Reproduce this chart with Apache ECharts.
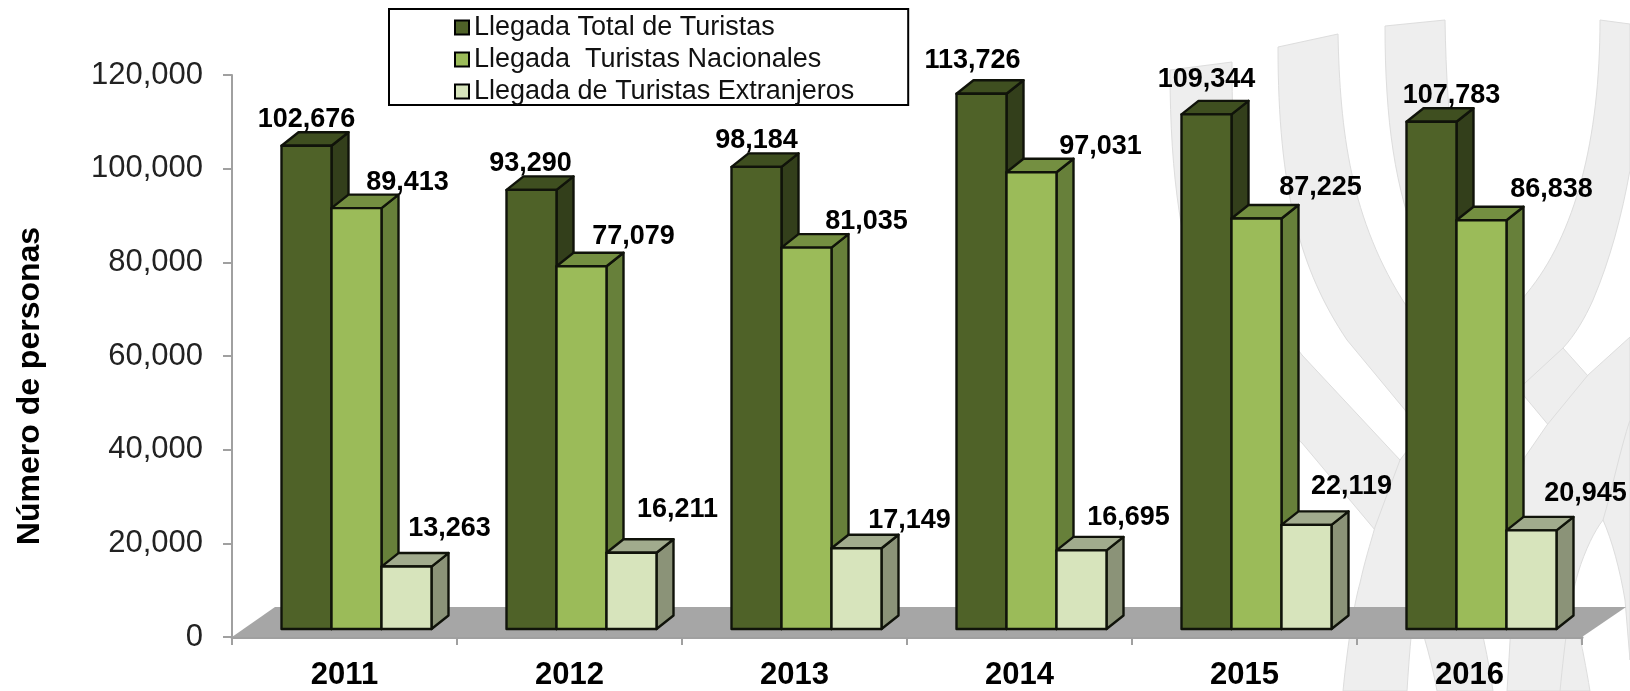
<!DOCTYPE html>
<html>
<head>
<meta charset="utf-8">
<style>html,body{margin:0;padding:0;background:#fff}#c{width:1630px;height:691px}</style>
<script src="https://cdn.jsdelivr.net/npm/echarts@6/dist/echarts.min.js"></script>
</head>
<body>
<div id="c"></div>
<script>
const categories = ['2011', '2012', '2013', '2014', '2015', '2016'];
const totalName = 'Llegada Total de Turistas';
const nationalName = 'Llegada  Turistas Nacionales';
const foreignName = 'Llegada de Turistas Extranjeros';
const totalValues = [102676, 93290, 98184, 113726, 109344, 107783];
const nationalValues = [89413, 77079, 81035, 97031, 87225, 86838];
const foreignValues = [13263, 16211, 17149, 16695, 22119, 20945];

// label nudges relative to the bar front face (layout only)
const totalLabelNudge = [[0,-26],[-1,-26],[0,-26],[-9,-33],[0,-35],[20,-26]];
const nationalLabelNudge = [[51,-26],[52,-30],[60,-26],[69,-26],[64,-31],[70,-31]];
const foreignLabelNudge = [[43,-38],[46,-43],[53,-28],[47,-33],[45,-38],[54,-37]];

const FONT = '"Liberation Sans", Arial, sans-serif';
const BAR_W = 50, DEPTH_X = 17, DEPTH_Y = 13.5, BASE_LIFT = 8, GROUP_SHIFT = 12, PERSPECTIVE = 1.005;
const EDGE = '#10130a';

// faint watermark ribbons behind the chart
const ribbons = [
  'M1170,70 L1232,62 C1232,170 1240,240 1262,290 C1275,310 1290,340 1302,355 L1400,460 C1450,515 1478,590 1493,691 L1437,691 C1428,640 1405,570 1375,530 L1302,443 C1220,370 1170,290 1170,70 Z',
  'M1278,47 L1338,34 C1340,130 1350,220 1407,307 L1525,470 C1550,510 1575,600 1590,691 L1542,691 C1535,640 1510,570 1500,550 L1405,410 L1347,340 C1300,270 1278,190 1278,47 Z',
  'M1385,26 L1445,20 C1447,130 1455,200 1490,260 C1510,295 1540,325 1563,348 L1630,423 L1630,660 L1625,600 C1620,570 1612,540 1603,520 C1590,490 1570,450 1550,427 L1525,397 L1420,250 C1395,190 1385,120 1385,26 Z',
  'M1600,20 L1630,24 L1630,170 C1622,215 1610,260 1593,300 C1585,318 1575,335 1563,348 L1525,383 C1490,420 1465,450 1440,490 C1420,540 1412,610 1407,691 L1343,691 C1348,640 1355,600 1360,583 C1365,560 1370,545 1375,527 L1400,460 L1527,293 C1575,235 1600,140 1600,20 Z',
  'M1630,337 L1588,375 L1547,425 L1525,457 C1515,520 1513,600 1507,691 L1560,691 C1565,640 1570,600 1578,573 C1585,550 1595,530 1603,520 C1612,490 1620,450 1630,420 Z'
];

function bar3d(values, nudges, slot, front, top, side) {
  return function (params, api) {
    const i = api.value(0);
    const v = api.value(1);
    const zero = api.coord([i, 0]);
    const head = api.coord([i, v]);
    const x0 = zero[0] - BAR_W * 1.5 + GROUP_SHIFT + slot * BAR_W;
    const x1 = x0 + BAR_W;
    const yb = zero[1] - BASE_LIFT;
    const yt = yb - (zero[1] - head[1]) * PERSPECTIVE;
    const line = { stroke: EDGE, lineWidth: 2.4, lineJoin: 'round' };
    const n = nudges[i];
    return {
      type: 'group',
      children: [
        { type: 'polygon', shape: { points: [[x1, yt], [x1 + DEPTH_X, yt - DEPTH_Y], [x1 + DEPTH_X, yb - DEPTH_Y], [x1, yb]] },
          style: Object.assign({ fill: side }, line) },
        { type: 'polygon', shape: { points: [[x0, yt], [x0 + DEPTH_X, yt - DEPTH_Y], [x1 + DEPTH_X, yt - DEPTH_Y], [x1, yt]] },
          style: Object.assign({ fill: top }, line) },
        { type: 'rect', shape: { x: x0, y: yt, width: BAR_W, height: yb - yt },
          style: Object.assign({ fill: front }, line) },
        { type: 'text', z2: 50, x: x0 + BAR_W / 2 + n[0], y: yt + n[1],
          style: { text: v.toLocaleString('en-US'), fill: '#000', font: 'bold 27px ' + FONT, align: 'center', verticalAlign: 'middle' } }
      ]
    };
  };
}

function barSeries(name, values, nudges, slot, front, top, side) {
  return {
    name, type: 'custom', coordinateSystem: 'cartesian2d', z: 5, clip: false,
    itemStyle: { color: front },
    encode: { x: 0, y: 1 },
    data: values.map((v, i) => [i, v]),
    renderItem: bar3d(values, nudges, slot, front, top, side)
  };
}

const chart = echarts.init(document.getElementById('c'), null, { renderer: 'canvas' });
chart.setOption({
  animation: false,
  backgroundColor: '#fff',
  textStyle: { fontFamily: FONT },
  grid: { left: 232, right: 48, top: 75, bottom: 52, containLabel: false },
  legend: {
    data: [totalName, nationalName, foreignName],
    orient: 'vertical', left: 389, top: 9,
    padding: [5, 54, 0, 65],
    itemWidth: 14, itemHeight: 14, itemGap: 5,
    backgroundColor: '#fff', borderColor: '#000', borderWidth: 2, borderRadius: 0,
    icon: 'rect',
    itemStyle: { borderColor: '#000', borderWidth: 2 },
    textStyle: { fontFamily: FONT, fontSize: 27, color: '#111' }
  },
  xAxis: {
    type: 'category', data: categories, boundaryGap: true,
    axisLine: { lineStyle: { color: '#a0a0a0', width: 3 } },
    axisTick: { show: true, alignWithLabel: false, length: 8, lineStyle: { color: '#a0a0a0', width: 2 } },
    axisLabel: { fontFamily: FONT, fontSize: 31, fontWeight: 'bold', color: '#000', margin: 23 }
  },
  yAxis: {
    type: 'value', min: 0, max: 120000, interval: 20000,
    name: 'Número de personas', nameLocation: 'middle', nameGap: 186,
    nameTextStyle: { fontFamily: FONT, fontSize: 32, fontWeight: 'bold', color: '#000', padding: [0, 60, 0, 0] },
    axisLine: { show: true, lineStyle: { color: '#a0a0a0', width: 2 } },
    axisTick: { show: true, length: 9, lineStyle: { color: '#a0a0a0', width: 2 } },
    axisLabel: { fontFamily: FONT, fontSize: 31, color: '#222', margin: 29, formatter: v => v.toLocaleString('en-US') },
    splitLine: { show: false }
  },
  series: [
    {
      name: 'watermark', type: 'custom', coordinateSystem: 'none', z: 0, silent: true,
      data: [[0]],
      renderItem: function () {
        return { type: 'group', silent: true, children: ribbons.map(d => ({
          type: 'path', shape: { pathData: d },
          style: { fill: '#eeeeee', stroke: '#dddddd', lineWidth: 1 } })) };
      }
    },
    {
      name: 'floor', type: 'custom', coordinateSystem: 'cartesian2d', z: 2, silent: true, clip: false,
      data: [[0, 0]], encode: { x: 0, y: 1 },
      renderItem: function (params) {
        const g = params.coordSys;
        const by = g.y + g.height;
        return { type: 'polygon', shape: { points: [[g.x, by], [g.x + 43, by - 30], [g.x + g.width + 44, by - 30], [g.x + g.width, by]] },
          style: { fill: '#a6a6a6' } };
      }
    },
    barSeries(totalName, totalValues, totalLabelNudge, 0, '#4f6228', '#3f4f20', '#333f1b'),
    barSeries(nationalName, nationalValues, nationalLabelNudge, 1, '#9bbb59', '#748f41', '#67803a'),
    barSeries(foreignName, foreignValues, foreignLabelNudge, 2, '#d7e4bc', '#a1ab8d', '#8b9378')
  ]
});
</script>
</body>
</html>
